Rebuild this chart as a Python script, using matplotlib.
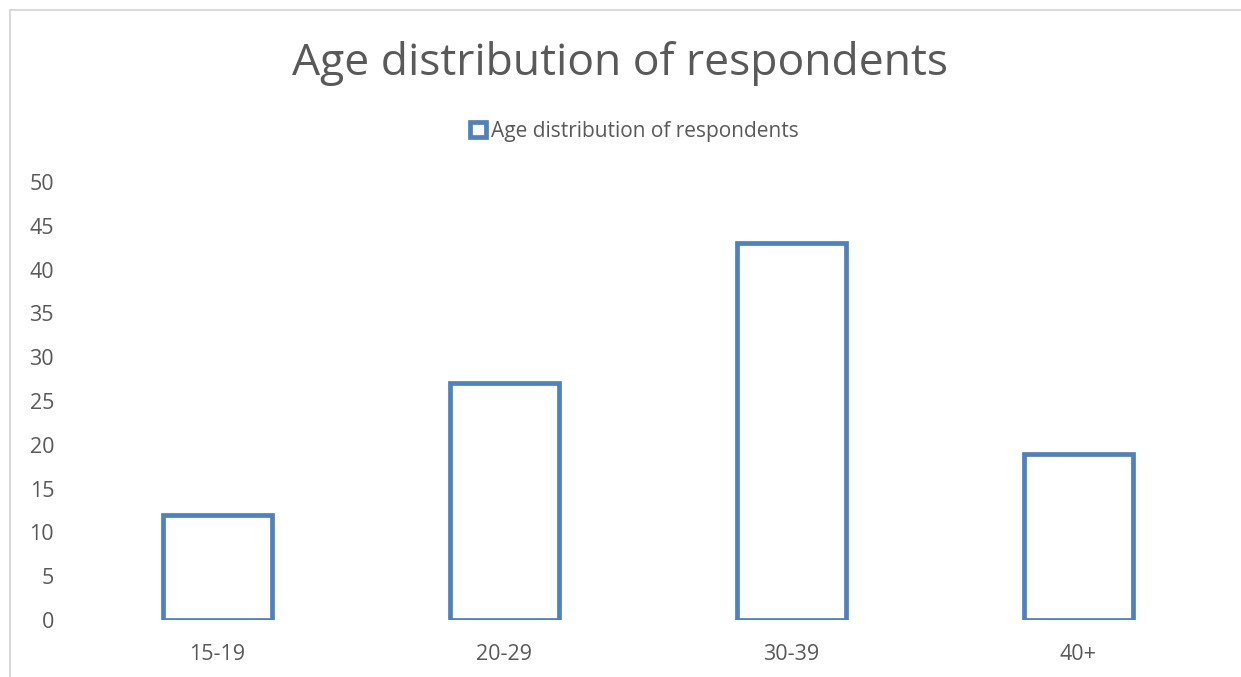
import matplotlib
matplotlib.use("Agg")
import matplotlib.pyplot as plt
from matplotlib.patches import Rectangle

age_groups = ["15-19", "20-29", "30-39", "40+"]
respondents = [12, 27, 43, 19]
y_ticks = [0, 5, 10, 15, 20, 25, 30, 35, 40, 45, 50]

title_text = "Age distribution of respondents"
series_name = "Age distribution of respondents"

BLUE = "#4F81BD"
TEXT = "#595959"

plt.rcParams["font.family"] = ["Open Sans", "DejaVu Sans"]

W, H = 1241, 677
fig = plt.figure(figsize=(W / 100, H / 100), dpi=100)
fig.patch.set_facecolor("white")

# chart frame
fig.patches.append(Rectangle((10 / W, -0.05), 1.05, 1 - 10 / H + 0.05,
                             transform=fig.transFigure, fill=False,
                             edgecolor="#D9D9D9", linewidth=1.5))

ax = fig.add_axes([73.5 / W, (H - 620) / H, (1222 - 73.5) / W, (620 - 182) / H])
x = range(len(age_groups))
bars = ax.bar(x, respondents, width=0.38, facecolor="white",
              edgecolor=BLUE, linewidth=3.4, label=series_name)

ax.set_xlim(-0.5, len(age_groups) - 0.5)
ax.set_ylim(0, 50)
ax.set_yticks(y_ticks)
ax.set_xticks(list(x))
ax.set_xticklabels(age_groups)
for s in ax.spines.values():
    s.set_visible(False)
ax.tick_params(axis="both", length=0, labelsize=15.5, colors=TEXT)
ax.tick_params(axis="y", pad=14)
ax.tick_params(axis="x", pad=17)

fig.text(0.5, 1 - 64 / H, title_text, ha="center", va="center",
         fontsize=32, color=TEXT)

leg = fig.legend(handles=[bars], labels=[series_name], loc="center",
                 bbox_to_anchor=(0.5 + 14 / W, 1 - 131 / H), frameon=False,
                 fontsize=15, handlelength=0.75, handleheight=0.75,
                 handletextpad=0.25, labelcolor=TEXT)
for h in leg.legend_handles:
    h.set_linewidth(3.4)

fig.savefig("out.png", dpi=100, facecolor="white")
